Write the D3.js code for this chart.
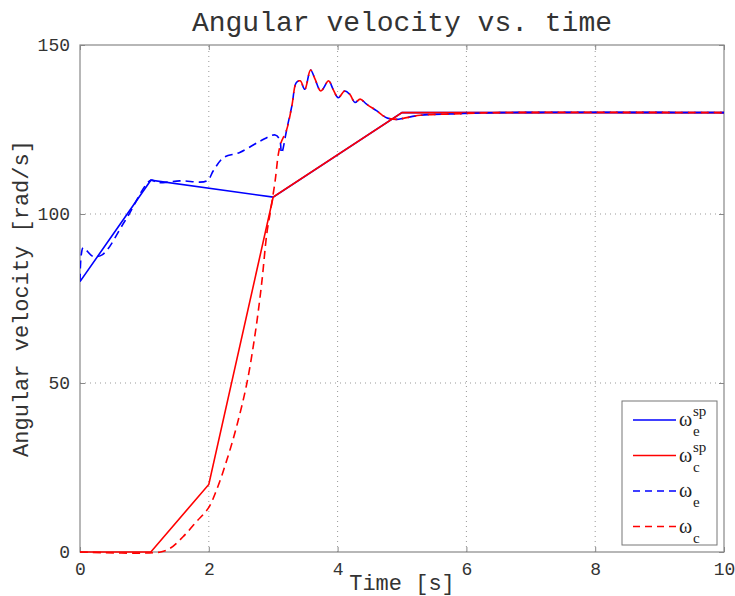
<!DOCTYPE html>
<meta charset="utf-8">
<style>
body { margin: 0; background: #fff; }
.grid line { stroke: #999; stroke-dasharray: 1,4; stroke-width: 1; }
.tick-label { font-family: "Liberation Mono", "Courier New", monospace; font-size: 18px; fill: #333; }
</style>
<body>
<script src="https://cdn.jsdelivr.net/npm/d3@7"></script>
<div id="content"></div>
<script>
var width = 735,
    height = 596,
    margin = {top: 45, right: 11, bottom: 44, left: 80};

// setpoints
var spT_e = [0, 1.1, 3, 5, 10];
var spV_e = [80, 110, 105, 130, 130];
var spT_c = [0, 1.1, 2, 3, 5, 10];
var spV_c = [0, 0, 20, 105, 130, 130];

// measured engine speed
var omegaT_e = [0, 0.02, 0.05, 0.2, 0.35, 0.7, 1.1, 1.2, 1.55, 1.97, 2.07, 2.23, 2.48, 2.8, 3.03, 3.1, 3.13,
  3.21, 3.29, 3.36, 3.42, 3.49, 3.58, 3.65, 3.74, 3.86, 3.93, 4.01, 4.11, 4.19, 4.27, 4.35, 4.45, 4.61, 4.76,
  4.92, 5.02, 5.28, 5.8, 6.5, 10];
var omegaV_e = [80, 88, 90, 87.5, 88, 98, 110, 109.3, 109.8, 109.8, 112.8, 116.7, 118.2, 121.6, 123.4, 122, 118,
  125, 132, 138.9, 139.4, 136.9, 142.6, 139.9, 136.4, 139.4, 136.9, 134.4, 136.4, 135.4, 133, 134, 132.5, 130.5, 128.5,
  128, 128.3, 129.2, 129.6, 130, 130];

// measured clutch speed
var omegaT_c = [0, 1.25, 1.4, 1.6, 1.81, 1.99, 2.12, 2.28, 2.43, 2.59, 2.72, 2.82, 2.9, 2.95, 3.03, 3.08, 3.12,
  3.21, 3.29, 3.36, 3.42, 3.49, 3.58, 3.65, 3.74, 3.86, 3.93, 4.01, 4.11, 4.19, 4.27, 4.35, 4.45, 4.61, 4.76,
  4.92, 5.02, 5.28, 5.8, 6.5, 10];
var omegaV_c = [0, 0, 1.1, 4.5, 9, 12.9, 18.3, 27.2, 37, 49.8, 64.6, 79.3, 94.1, 100, 109.8, 117.7, 121,
  125, 132, 138.9, 139.4, 136.9, 142.6, 139.9, 136.4, 139.4, 136.9, 134.4, 136.4, 135.4, 133, 134, 132.5, 130.5, 128.5,
  128, 128.3, 129.2, 129.6, 130, 130];

var xTicks = [0, 2, 4, 6, 8, 10];
var yTicks = [0, 50, 100, 150];

var series = [
  {t: spT_e, v: spV_e, color: "#0000ff", dash: null, base: "\u03c9", sub: "e", sup: "sp"},
  {t: spT_c, v: spV_c, color: "#ff0000", dash: null, base: "\u03c9", sub: "c", sup: "sp"},
  {t: omegaT_e, v: omegaV_e, color: "#0000ff", dash: "8,5", base: "\u03c9", sub: "e", sup: null},
  {t: omegaT_c, v: omegaV_c, color: "#ff0000", dash: "8,5", base: "\u03c9", sub: "c", sup: null}
];

var svg = d3.select("#content").append("svg")
    .attr("width", width)
    .attr("height", height);

var x = d3.scaleLinear().domain([0, 10]).range([margin.left, width - margin.right]);
var y = d3.scaleLinear().domain([0, 150]).range([height - margin.bottom, margin.top]);

// grid
var grid = svg.append("g").attr("class", "grid");
grid.selectAll(".gx").data(xTicks.slice(1, -1)).enter().append("line")
    .attr("x1", d => x(d)).attr("x2", d => x(d))
    .attr("y1", y(0)).attr("y2", y(150));
grid.selectAll(".gy").data(yTicks.slice(1, -1)).enter().append("line")
    .attr("y1", d => y(d)).attr("y2", d => y(d))
    .attr("x1", x(0)).attr("x2", x(10));

// axes, ticks pointing inwards like matlab
var axisColor = "#888";
function styleAxis(g) {
  g.select(".domain").remove();
  g.selectAll(".tick line").attr("stroke", axisColor);
  g.selectAll(".tick text").attr("class", "tick-label");
}
svg.append("g").attr("transform", "translate(0," + y(0) + ")")
   .call(d3.axisBottom(x).tickValues(xTicks).tickSize(-5).tickPadding(10))
   .call(styleAxis);
svg.append("g").attr("transform", "translate(0," + y(150) + ")")
   .call(d3.axisTop(x).tickValues(xTicks).tickSize(-5).tickFormat(""))
   .call(styleAxis);
svg.append("g").attr("transform", "translate(" + x(0) + ",0)")
   .call(d3.axisLeft(y).tickValues(yTicks).tickSize(-5).tickPadding(10))
   .call(styleAxis);
svg.append("g").attr("transform", "translate(" + x(10) + ",0)")
   .call(d3.axisRight(y).tickValues(yTicks).tickSize(-5).tickFormat(""))
   .call(styleAxis);

svg.append("rect")
    .attr("x", x(0)).attr("y", y(150))
    .attr("width", x(10) - x(0)).attr("height", y(0) - y(150))
    .attr("fill", "none").attr("stroke", axisColor).attr("stroke-width", 1.2);

// lines: setpoints straight, measurements smooth
var lineLin = d3.line().x(d => x(d[0])).y(d => y(d[1]));
var lineSmooth = d3.line().x(d => x(d[0])).y(d => y(d[1])).curve(d3.curveCatmullRom.alpha(0.5));
var clip = svg.append("clipPath").attr("id", "clip").append("rect")
    .attr("x", x(0)).attr("y", y(150) - 2)
    .attr("width", x(10) - x(0)).attr("height", y(0) - y(150) + 4);

svg.selectAll(".series")
    .data(series)
    .enter()
    .append("path")
    .attr("class", "series")
    .attr("clip-path", "url(#clip)")
    .attr("d", d => (d.dash ? lineSmooth : lineLin)(d.t.map((t, i) => [t, d.v[i]])))
    .attr("fill", "none")
    .attr("stroke", d => d.color)
    .attr("stroke-width", 1.6)
    .attr("stroke-dasharray", d => d.dash);

// labels
var mono = "'Liberation Mono', 'Courier New', monospace";
svg.append("text")
    .attr("x", (x(0) + x(10)) / 2).attr("y", 31)
    .attr("text-anchor", "middle")
    .style("font-family", mono).style("font-size", "28px").style("fill", "#333")
    .text("Angular velocity vs. time");
svg.append("text")
    .attr("x", (x(0) + x(10)) / 2).attr("y", 590)
    .attr("text-anchor", "middle")
    .style("font-family", mono).style("font-size", "22px").style("fill", "#333")
    .text("Time [s]");
svg.append("text")
    .attr("transform", "translate(28," + (y(0) + y(150)) / 2 + ") rotate(-90)")
    .attr("text-anchor", "middle")
    .style("font-family", mono).style("font-size", "22px").style("fill", "#333")
    .text("Angular velocity [rad/s]");

// legend
var legend = svg.append("g").attr("transform", "translate(622,401)");
legend.append("rect")
    .attr("width", 95).attr("height", 144)
    .attr("fill", "#fff").attr("stroke", "#777").attr("stroke-width", 1);
var items = legend.selectAll(".item").data(series).enter().append("g")
    .attr("transform", (d, i) => "translate(0," + (19 + i * 35.5) + ")");
items.append("line")
    .attr("x1", 11).attr("x2", 54)
    .attr("stroke", d => d.color).attr("stroke-width", 1.6)
    .attr("stroke-dasharray", d => d.dash ? "7,5" : null);
var lt = items.append("text")
    .attr("x", 57).attr("y", 6)
    .style("font-family", "'Liberation Serif', 'Times New Roman', serif")
    .style("font-size", "20px").style("fill", "#222");
lt.append("tspan").text(d => d.base);
lt.filter(d => d.sup).append("tspan")
    .attr("x", 71).attr("dy", -10).style("font-size", "15px").text(d => d.sup);
lt.filter(d => d.sup).append("tspan")
    .attr("x", 71).attr("dy", 20).style("font-size", "15px").text(d => d.sub);
lt.filter(d => !d.sup).append("tspan")
    .attr("x", 71).attr("dy", 10).style("font-size", "15px").text(d => d.sub);
</script>
